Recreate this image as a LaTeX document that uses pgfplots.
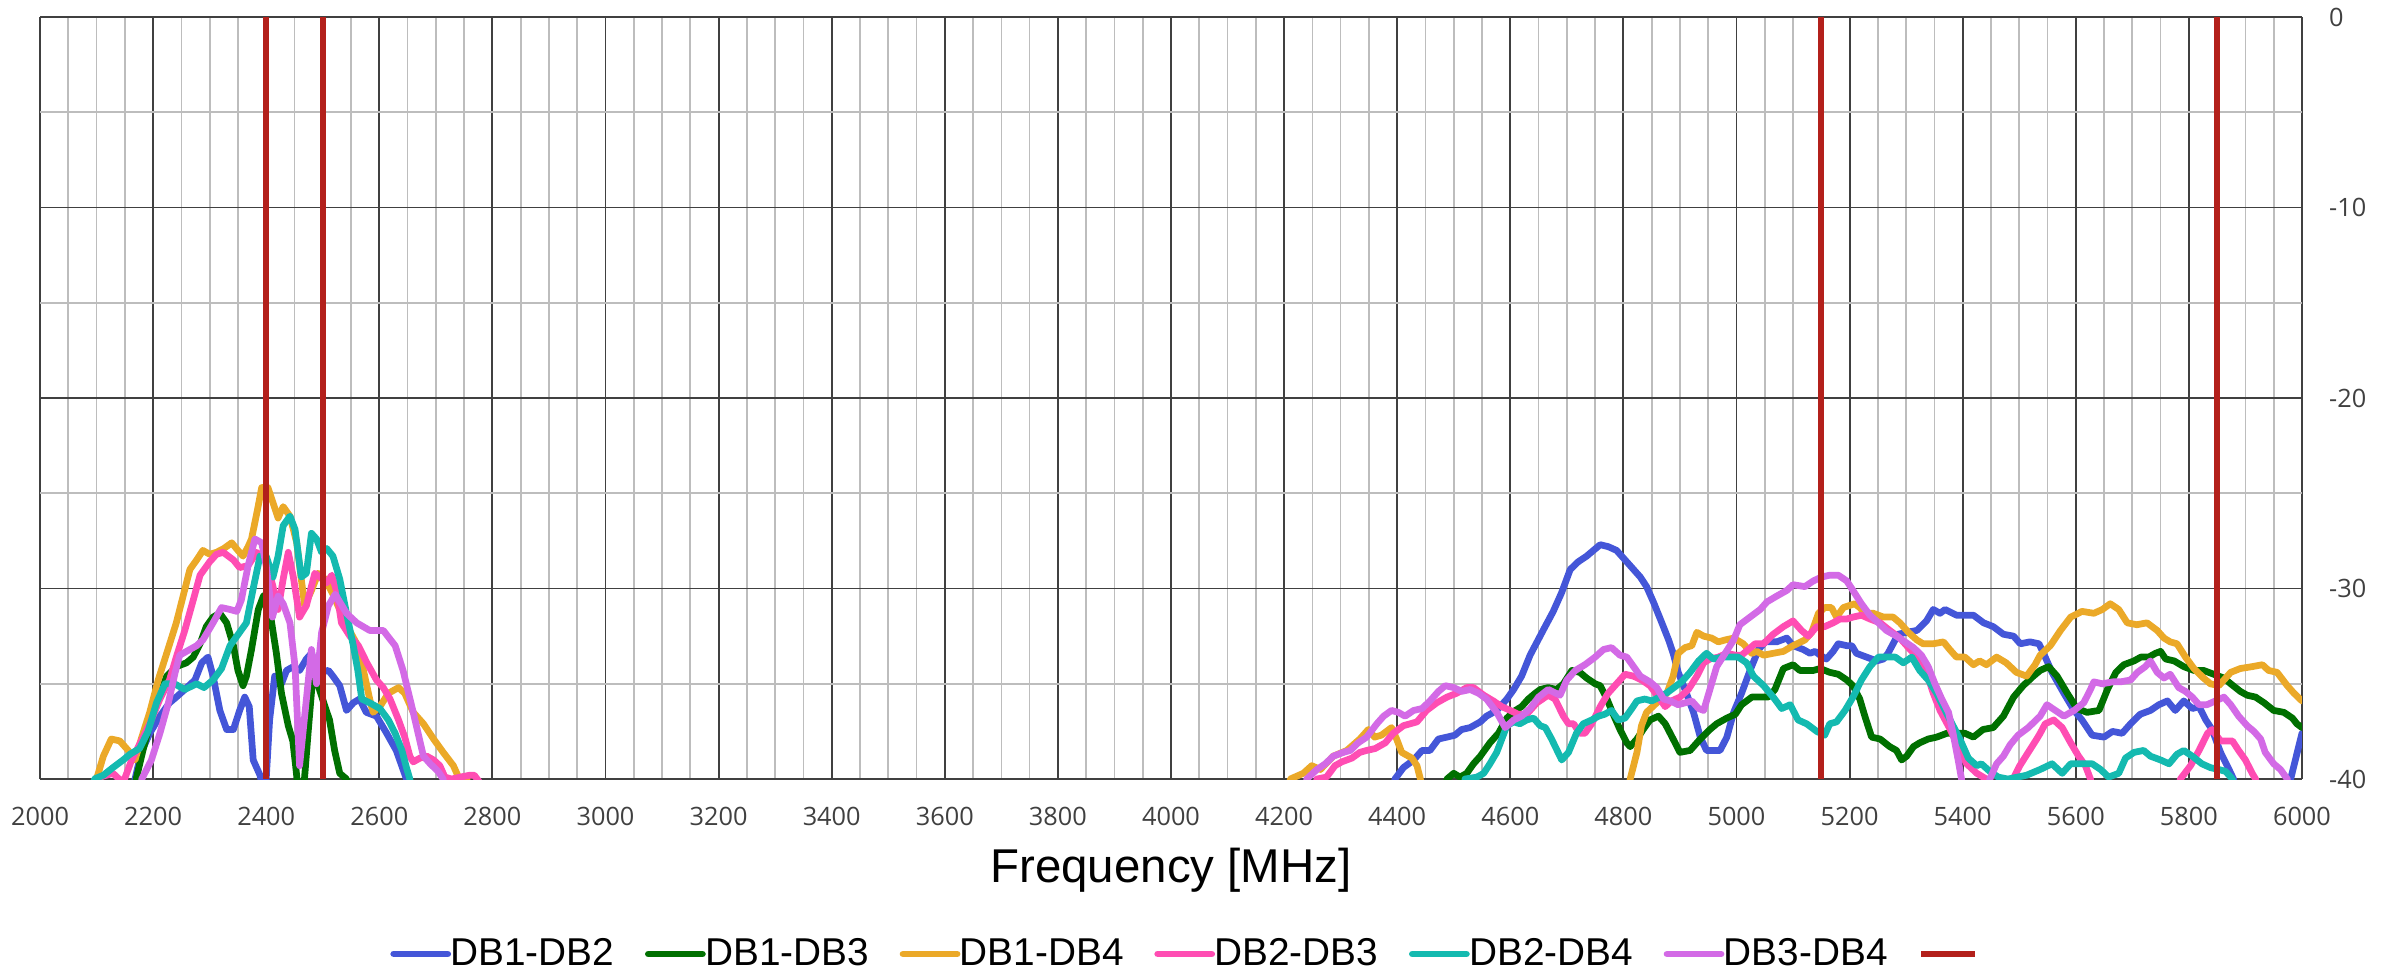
\documentclass[border=0pt]{standalone}
\usepackage{pgfplots}
\pgfplotsset{compat=1.18}
\usepackage{fontspec}
\setmainfont{Liberation Sans}
\newfontfamily\tickfont{Open Sans}

\definecolor{cAB}{HTML}{4456D8}
\definecolor{cAC}{HTML}{007000}
\definecolor{cAD}{HTML}{EBA928}
\definecolor{cBC}{HTML}{FF4DB3}
\definecolor{cBD}{HTML}{14BAB0}
\definecolor{cCD}{HTML}{D36AE6}
\definecolor{band}{HTML}{B3201B}
\definecolor{gridmajor}{HTML}{404040}
\definecolor{gridminor}{HTML}{BDBDBD}
\definecolor{ticktext}{HTML}{404040}

\tikzset{curve/.style={line width=3.2pt, line join=round, line cap=round}}

\begin{document}
\begin{tikzpicture}
\begin{axis}[
  at={(0.667cm,3.233cm)}, anchor=south west,
  width=37.70cm, height=12.70cm, scale only axis,
  xmin=2000, xmax=6000, ymin=-40, ymax=0,
  xtick={2000,2200,...,6000},
  xticklabels={2000,2200,2400,2600,2800,3000,3200,3400,3600,3800,4000,4200,4400,4600,4800,5000,5200,5400,5600,5800,6000},
  ytick={-40,-30,-20,-10,0},
  yticklabels={-40,-30,-20,-10,0},
  minor x tick num=3, minor y tick num=1,
  grid=both,
  major grid style={color=gridmajor, line width=0.9pt},
  minor grid style={color=gridminor, line width=0.8pt},
  axis line style={draw=none},
  tick style={draw=none},
  major tick length=0pt, minor tick length=0pt,
  yticklabel pos=right,
  tick label style={font=\tickfont\fontsize{12}{14}\selectfont, text=ticktext},
  yticklabel style={anchor=west, xshift=0.33cm},
  xticklabel style={anchor=base, yshift=-0.78cm},
  xlabel={Frequency [MHz]},
  xlabel style={font=\fontsize{22.5}{26}\selectfont, at={(axis description cs:0.5,0)}, anchor=base, yshift=-1.73cm},
  unbounded coords=jump,
  legend columns=7,
  legend style={at={(axis description cs:0.1547,-0.2296)}, anchor=west, draw=none, fill=none,
    inner sep=0pt, font=\fontsize{18.4}{21}\selectfont,
    /tikz/every odd column/.append style={column sep=-0.08cm},
    /tikz/every even column/.append style={column sep=0.44cm}},
  legend image code/.code={\draw[#1] (0cm,0cm) -- (0.9cm,0cm);},
]

% DB1-DB2
\addplot[cAB, curve] coordinates {
(2150,-46) (2168,-40) (2179,-38.6) (2194,-37.6) (2212,-36.7) (2229,-36.0) (2241,-35.7) (2256,-35.3)
(2274,-34.8) (2286,-33.9) (2297,-33.6) (2306,-34.6) (2318,-36.4) (2330,-37.4) (2342,-37.4) (2353,-36.4)
(2362,-35.7) (2370,-36.2) (2377,-39.0) (2389,-39.8) (2398,-41) (2406,-36.9) (2415,-34.6) (2427,-35.0)
(2436,-34.3) (2448,-34.1) (2459,-34.3) (2471,-33.7) (2480,-33.4) (2486,-33.9) (2495,-34.4) (2510,-34.3)
(2518,-34.6) (2530,-35.1) (2542,-36.4) (2554,-36.0) (2565,-35.8) (2577,-36.5) (2595,-36.7) (2613,-37.6)
(2630,-38.5) (2642,-39.5) (2648,-40) (2665,-46) (4380,-46) (4396,-40) (4411,-39.4) (4429,-39.0)
(4444,-38.5) (4458,-38.5) (4473,-37.9) (4488,-37.8) (4502,-37.7) (4514,-37.4) (4529,-37.3) (4547,-37.0)
(4558,-36.7) (4576,-36.4) (4594,-35.8) (4606,-35.3) (4620,-34.6) (4635,-33.5) (4658,-32.2) (4676,-31.2)
(4691,-30.2) (4706,-29.0) (4720,-28.6) (4735,-28.3) (4747,-28.0) (4759,-27.7) (4773,-27.8) (4788,-28.0)
(4803,-28.5) (4818,-29.0) (4830,-29.4) (4841,-29.9) (4853,-30.7) (4868,-31.8) (4880,-32.7) (4888,-33.4)
(4897,-34.4) (4909,-35.3) (4924,-36.5) (4936,-37.8) (4947,-38.5) (4971,-38.5) (4983,-37.8) (4995,-36.5)
(5009,-35.5) (5024,-34.3) (5039,-33.2) (5051,-32.8) (5071,-32.8) (5089,-32.6) (5100,-33.0) (5118,-33.2)
(5130,-33.4) (5139,-33.3) (5148,-33.5) (5159,-33.7) (5171,-33.3) (5180,-32.9) (5195,-33.0) (5204,-33.0)
(5212,-33.4) (5230,-33.6) (5248,-33.8) (5260,-33.7) (5268,-33.4) (5277,-32.9) (5286,-32.4) (5301,-32.3)
(5319,-32.2) (5336,-31.7) (5348,-31.1) (5360,-31.3) (5369,-31.1) (5389,-31.4) (5407,-31.4) (5419,-31.4)
(5437,-31.8) (5454,-32.0) (5472,-32.4) (5490,-32.5) (5502,-32.9) (5519,-32.8) (5535,-32.9) (5546,-33.6)
(5558,-34.4) (5579,-35.5) (5597,-36.4) (5611,-36.9) (5629,-37.7) (5650,-37.8) (5665,-37.5) (5682,-37.6)
(5697,-37.1) (5714,-36.6) (5732,-36.4) (5747,-36.1) (5762,-35.9) (5776,-36.4) (5791,-35.9) (5806,-36.3)
(5818,-36.2) (5830,-36.9) (5841,-37.4) (5856,-38.6) (5871,-39.5) (5879,-40) (5895,-46) (5965,-46)
(5980,-40) (6000,-37.6)
};
\addlegendentry{DB1-DB2}

% DB1-DB3
\addplot[cAC, curve] coordinates {
(2150,-46) (2170,-40) (2182,-38.5) (2195,-37.0) (2206,-36.1) (2224,-34.6) (2241,-34.1) (2259,-33.9)
(2271,-33.6) (2283,-32.9) (2294,-32.0) (2306,-31.5) (2318,-31.3) (2330,-31.8) (2342,-33.0) (2350,-34.3)
(2359,-35.1) (2365,-34.6) (2374,-33.2) (2386,-31.1) (2395,-30.4) (2400,-30.3) (2406,-31.1) (2418,-33.4)
(2427,-35.5) (2439,-37.2) (2447,-38.0) (2452,-39.3) (2458,-41) (2465,-41) (2474,-37.6) (2483,-34.4)
(2492,-35.1) (2504,-36.2) (2512,-36.9) (2521,-38.5) (2530,-39.7) (2542,-40) (2555,-46) (4470,-46)
(4488,-40) (4500,-39.7) (4511,-39.9) (4523,-39.7) (4535,-39.2) (4547,-38.8) (4564,-38.1) (4579,-37.6)
(4594,-36.8) (4609,-36.4) (4620,-36.2) (4632,-35.8) (4644,-35.5) (4653,-35.3) (4667,-35.2) (4682,-35.3)
(4694,-35.0) (4709,-34.3) (4723,-34.4) (4735,-34.7) (4750,-35.0) (4759,-35.1) (4771,-35.8) (4782,-36.6)
(4794,-37.4) (4806,-38.1) (4812,-38.3) (4824,-37.9) (4835,-37.4) (4847,-36.9) (4862,-36.7) (4874,-37.1)
(4888,-37.9) (4900,-38.6) (4918,-38.5) (4936,-37.9) (4953,-37.4) (4965,-37.1) (4983,-36.8) (4998,-36.6)
(5009,-36.1) (5027,-35.7) (5039,-35.7) (5056,-35.7) (5068,-35.3) (5083,-34.2) (5100,-34.0) (5112,-34.3)
(5124,-34.3) (5136,-34.3) (5148,-34.2) (5165,-34.4) (5180,-34.5) (5195,-34.8) (5206,-35.1) (5218,-35.8)
(5227,-36.7) (5239,-37.8) (5254,-37.9) (5271,-38.3) (5283,-38.5) (5292,-39.0) (5301,-38.8) (5313,-38.3)
(5324,-38.1) (5339,-37.9) (5354,-37.8) (5372,-37.6) (5389,-37.6) (5404,-37.6) (5419,-37.8) (5436,-37.4)
(5454,-37.3) (5472,-36.7) (5490,-35.7) (5507,-35.1) (5525,-34.6) (5537,-34.3) (5552,-34.1) (5567,-34.6)
(5585,-35.5) (5602,-36.3) (5620,-36.5) (5641,-36.4) (5656,-35.3) (5671,-34.4) (5685,-34.0) (5703,-33.8)
(5715,-33.6) (5729,-33.6) (5741,-33.4) (5750,-33.3) (5759,-33.7) (5774,-33.8) (5791,-34.1) (5809,-34.3)
(5826,-34.3) (5844,-34.5) (5862,-34.7) (5874,-35.0) (5891,-35.4) (5903,-35.6) (5918,-35.7) (5933,-36.0)
(5950,-36.4) (5968,-36.5) (5983,-36.8) (5991,-37.1) (6000,-37.3)
};
\addlegendentry{DB1-DB3}

% DB1-DB4
\addplot[cAD, curve] coordinates {
(2090,-46) (2100,-40) (2112,-38.8) (2126,-37.9) (2141,-38.0) (2156,-38.5) (2168,-39.0) (2180,-37.8)
(2194,-36.5) (2209,-34.8) (2224,-33.4) (2241,-31.8) (2253,-30.4) (2265,-29.0) (2277,-28.5) (2288,-28.0)
(2300,-28.2) (2312,-28.1) (2325,-27.9) (2339,-27.6) (2350,-28.0) (2359,-28.3) (2368,-27.8) (2374,-27.4)
(2385,-25.8) (2392,-24.7) (2403,-24.7) (2412,-25.5) (2421,-26.3) (2430,-25.7) (2442,-26.2) (2454,-27.6)
(2462,-29.5) (2468,-30.9) (2474,-30.5) (2480,-30.1) (2492,-29.2) (2504,-29.5) (2518,-30.3) (2540,-31.8)
(2560,-32.9) (2572,-34.3) (2583,-35.8) (2589,-36.5) (2601,-36.2) (2616,-35.5) (2634,-35.2) (2645,-35.5)
(2660,-36.5) (2678,-37.1) (2696,-37.9) (2713,-38.6) (2731,-39.3) (2740,-39.9) (2755,-40) (2770,-46)
(4195,-46) (4211,-40) (4234,-39.7) (4249,-39.3) (4264,-39.5) (4287,-38.8) (4311,-38.5) (4334,-37.9)
(4349,-37.4) (4360,-37.8) (4372,-37.7) (4390,-37.3) (4399,-37.9) (4408,-38.6) (4426,-38.9) (4435,-39.3)
(4441,-40) (4455,-46) (4800,-46) (4812,-40) (4824,-38.6) (4832,-37.2) (4841,-36.5) (4859,-36.0)
(4877,-35.5) (4888,-34.6) (4897,-33.4) (4909,-33.1) (4921,-33.0) (4930,-32.3) (4942,-32.5) (4956,-32.6)
(4968,-32.8) (4980,-32.7) (4995,-32.6) (5012,-32.9) (5027,-33.4) (5036,-33.3) (5048,-33.5) (5065,-33.4)
(5083,-33.3) (5100,-33.0) (5121,-32.7) (5133,-32.3) (5145,-31.3) (5156,-31.0) (5168,-31.0) (5177,-31.5)
(5189,-31.0) (5209,-30.8) (5218,-31.0) (5227,-31.3) (5242,-31.3) (5260,-31.5) (5277,-31.5) (5289,-31.8)
(5304,-32.3) (5319,-32.7) (5330,-32.9) (5348,-32.9) (5366,-32.8) (5377,-33.2) (5389,-33.6) (5404,-33.6)
(5419,-34.0) (5430,-33.8) (5442,-34.0) (5460,-33.6) (5477,-33.9) (5495,-34.4) (5513,-34.6) (5528,-34.0)
(5537,-33.5) (5555,-33.0) (5573,-32.2) (5591,-31.5) (5611,-31.2) (5632,-31.3) (5647,-31.1) (5661,-30.8)
(5676,-31.1) (5691,-31.8) (5708,-31.9) (5726,-31.8) (5744,-32.2) (5756,-32.6) (5767,-32.8) (5779,-32.9)
(5794,-33.6) (5809,-34.2) (5826,-34.7) (5838,-35.0) (5853,-35.1) (5862,-34.8) (5874,-34.4) (5891,-34.2)
(5912,-34.1) (5930,-34.0) (5941,-34.3) (5956,-34.4) (5974,-35.1) (5986,-35.5) (6000,-35.9)
};
\addlegendentry{DB1-DB4}

% DB2-DB3
\addplot[cBC, curve] coordinates {
(2095,-46) (2106,-39.9) (2129,-39.7) (2147,-40.2) (2162,-39.0) (2179,-38.0) (2194,-37.1) (2212,-35.8)
(2229,-34.8) (2241,-33.6) (2256,-32.2) (2271,-30.6) (2283,-29.3) (2300,-28.6) (2312,-28.2) (2324,-28.1)
(2342,-28.5) (2353,-28.9) (2368,-28.8) (2383,-28.1) (2400,-28.5) (2412,-29.9) (2421,-31.1) (2430,-29.5)
(2439,-28.1) (2448,-29.4) (2459,-31.5) (2471,-30.9) (2486,-29.2) (2495,-29.4) (2507,-29.7) (2516,-29.3)
(2525,-30.2) (2533,-31.8) (2548,-32.5) (2563,-33.0) (2578,-33.9) (2595,-34.8) (2607,-35.2) (2619,-35.8)
(2634,-36.9) (2645,-37.8) (2654,-38.8) (2660,-39.1) (2672,-38.9) (2684,-38.8) (2696,-39.0) (2707,-39.3)
(2716,-39.9) (2728,-40.0) (2743,-39.9) (2760,-39.8) (2768,-39.8) (2778,-40.2) (2790,-46)
(4245,-46) (4258,-40) (4275,-39.9) (4290,-39.3) (4302,-39.1) (4320,-38.9) (4334,-38.6) (4346,-38.5)
(4361,-38.4) (4379,-38.1) (4393,-37.6) (4411,-37.2) (4435,-37.0) (4452,-36.4) (4470,-36.0) (4488,-35.7)
(4505,-35.5) (4523,-35.2) (4535,-35.2) (4553,-35.6) (4570,-35.9) (4585,-36.2) (4600,-36.4) (4614,-36.6)
(4629,-36.6) (4647,-36.0) (4667,-35.6) (4679,-35.8) (4694,-36.7) (4703,-37.1) (4712,-37.1) (4723,-37.6)
(4732,-37.6) (4744,-37.1) (4759,-36.2) (4773,-35.5) (4788,-35.0) (4803,-34.5) (4818,-34.6) (4832,-34.8)
(4847,-35.1) (4862,-35.7) (4874,-36.2) (4885,-35.9) (4900,-35.7) (4915,-35.3) (4930,-34.6) (4942,-33.9)
(4953,-33.7) (4968,-33.6) (4983,-33.4) (4998,-33.5) (5009,-33.5) (5021,-33.2) (5033,-32.9) (5048,-32.9)
(5065,-32.4) (5083,-32.0) (5100,-31.7) (5115,-32.2) (5127,-32.5) (5142,-32.0) (5156,-32.0) (5171,-31.8)
(5183,-31.6) (5195,-31.6) (5206,-31.5) (5221,-31.4) (5236,-31.6) (5254,-31.8) (5271,-32.2) (5289,-32.6)
(5307,-33.2) (5324,-33.7) (5336,-34.4) (5348,-35.5) (5360,-36.4) (5378,-37.4) (5392,-38.3) (5407,-39.2)
(5425,-39.7) (5442,-40) (5455,-46) (5480,-46) (5489,-40) (5501,-39.3) (5516,-38.6) (5531,-37.9)
(5537,-37.6) (5546,-37.1) (5561,-36.9) (5576,-37.3) (5591,-38.1) (5605,-38.8) (5617,-39.3) (5626,-40)
(5640,-46) (5770,-46) (5785,-40) (5803,-39.3) (5818,-38.5) (5833,-37.6) (5841,-37.4) (5856,-38.0)
(5868,-38.0) (5877,-38.0) (5888,-38.5) (5900,-39.0) (5912,-39.7) (5918,-40) (5930,-46)
};
\addlegendentry{DB2-DB3}

% DB2-DB4
\addplot[cBD, curve] coordinates {
(2085,-46) (2096,-40) (2112,-39.8) (2129,-39.4) (2147,-39.0) (2159,-38.7) (2176,-38.4) (2191,-37.5)
(2206,-36.0) (2221,-35.0) (2238,-35.0) (2256,-35.3) (2277,-35.0) (2290,-35.2) (2306,-34.8) (2321,-34.2)
(2336,-33.0) (2353,-32.3) (2365,-31.8) (2377,-30.0) (2389,-28.3) (2400,-28.3) (2412,-29.4) (2421,-28.3)
(2430,-26.7) (2442,-26.2) (2451,-26.9) (2462,-29.4) (2471,-29.2) (2480,-27.1) (2489,-27.4) (2498,-28.1)
(2507,-27.9) (2518,-28.3) (2530,-29.5) (2542,-31.3) (2554,-33.0) (2562,-34.3) (2569,-35.8) (2583,-36.0)
(2601,-36.3) (2616,-36.9) (2628,-37.6) (2640,-38.5) (2648,-39.4) (2654,-40) (2668,-46)
(4505,-46) (4520,-40) (4541,-39.9) (4553,-39.7) (4564,-39.2) (4576,-38.6) (4585,-37.9) (4594,-37.2)
(4606,-37.0) (4617,-37.1) (4629,-36.9) (4641,-36.8) (4653,-37.2) (4662,-37.3) (4673,-37.9) (4691,-39.0)
(4703,-38.6) (4717,-37.6) (4729,-37.1) (4744,-36.9) (4756,-36.7) (4767,-36.6) (4779,-36.4) (4791,-36.9)
(4803,-36.8) (4815,-36.3) (4824,-35.9) (4838,-35.8) (4850,-35.9) (4871,-35.6) (4885,-35.3) (4903,-34.9)
(4918,-34.4) (4933,-33.8) (4947,-33.4) (4959,-33.7) (4974,-33.6) (4989,-33.6) (5003,-33.6) (5018,-33.9)
(5030,-34.6) (5048,-35.1) (5065,-35.7) (5080,-36.3) (5095,-36.1) (5109,-36.9) (5124,-37.1) (5142,-37.5)
(5156,-37.7) (5165,-37.1) (5177,-37.0) (5192,-36.4) (5206,-35.7) (5221,-34.8) (5236,-34.1) (5251,-33.6)
(5265,-33.6) (5281,-33.6) (5295,-33.9) (5310,-33.6) (5324,-34.3) (5339,-34.8) (5354,-35.5) (5369,-36.4)
(5383,-37.2) (5395,-37.9) (5410,-38.9) (5425,-39.3) (5433,-39.2) (5448,-39.6) (5463,-39.9) (5480,-40.0)
(5497,-39.9) (5513,-39.8) (5537,-39.5) (5558,-39.2) (5576,-39.7) (5591,-39.2) (5611,-39.2) (5629,-39.2)
(5644,-39.5) (5658,-39.9) (5676,-39.7) (5688,-38.9) (5703,-38.6) (5720,-38.5) (5732,-38.8) (5750,-39.0)
(5765,-39.2) (5779,-38.7) (5791,-38.5) (5806,-38.8) (5823,-39.2) (5838,-39.4) (5853,-39.5) (5865,-39.6)
(5877,-40) (5890,-46)
};
\addlegendentry{DB2-DB4}

% DB3-DB4
\addplot[cCD, curve] coordinates {
(2165,-46) (2180,-40) (2197,-39.0) (2212,-37.6) (2227,-36.0) (2239,-34.4) (2247,-33.5) (2265,-33.2)
(2277,-33.0) (2288,-32.7) (2306,-31.8) (2321,-31.0) (2336,-31.1) (2348,-31.2) (2356,-30.6) (2368,-28.8)
(2380,-27.4) (2392,-27.6) (2400,-28.8) (2411,-31.5) (2421,-30.4) (2430,-30.8) (2442,-31.8) (2451,-34.1)
(2459,-39.3) (2468,-36.7) (2480,-33.2) (2489,-35.0) (2498,-32.3) (2510,-30.9) (2522,-30.3) (2542,-31.3)
(2560,-31.8) (2583,-32.2) (2607,-32.2) (2628,-33.0) (2642,-34.3) (2660,-36.5) (2678,-38.8) (2690,-39.2)
(2704,-39.6) (2713,-40) (2725,-46)
(4225,-46) (4240,-40) (4258,-39.5) (4273,-39.2) (4287,-38.8) (4305,-38.6) (4317,-38.5) (4331,-38.1)
(4346,-37.8) (4364,-37.1) (4376,-36.7) (4390,-36.4) (4402,-36.5) (4414,-36.7) (4429,-36.4) (4444,-36.3)
(4458,-35.9) (4473,-35.4) (4485,-35.1) (4500,-35.2) (4514,-35.4) (4529,-35.3) (4544,-35.5) (4558,-35.8)
(4576,-36.5) (4591,-37.3) (4606,-36.9) (4620,-36.7) (4635,-36.3) (4650,-35.7) (4667,-35.3) (4688,-35.6)
(4700,-34.8) (4715,-34.3) (4732,-34.0) (4750,-33.6) (4765,-33.2) (4779,-33.1) (4794,-33.5) (4806,-33.6)
(4818,-34.1) (4830,-34.6) (4847,-34.9) (4859,-35.2) (4871,-35.8) (4883,-35.9) (4897,-36.1) (4909,-36.0)
(4921,-35.9) (4933,-36.3) (4942,-36.4) (4953,-35.3) (4965,-34.1) (4980,-33.4) (4995,-32.7) (5006,-31.9)
(5024,-31.5) (5042,-31.1) (5054,-30.7) (5071,-30.4) (5089,-30.1) (5100,-29.8) (5121,-29.9) (5136,-29.6)
(5150,-29.4) (5165,-29.3) (5180,-29.3) (5195,-29.6) (5206,-30.1) (5221,-30.8) (5236,-31.4) (5251,-31.8)
(5265,-32.2) (5283,-32.5) (5298,-32.8) (5313,-33.1) (5327,-33.5) (5339,-34.1) (5351,-35.0) (5363,-35.8)
(5375,-36.5) (5383,-37.6) (5392,-39.0) (5398,-40) (5408,-46) (5440,-46) (5448,-40) (5460,-39.2)
(5472,-38.8) (5484,-38.2) (5498,-37.7) (5516,-37.3) (5537,-36.7) (5549,-36.1) (5564,-36.4) (5579,-36.7)
(5597,-36.4) (5614,-36.0) (5626,-35.3) (5632,-34.9) (5647,-35.0) (5665,-34.9) (5679,-34.9) (5697,-34.8)
(5709,-34.4) (5723,-34.1) (5732,-33.8) (5744,-34.4) (5756,-34.7) (5767,-34.5) (5782,-35.2) (5794,-35.4)
(5806,-35.7) (5818,-36.1) (5832,-36.1) (5847,-35.9) (5862,-35.7) (5874,-36.1) (5888,-36.7) (5903,-37.2)
(5915,-37.5) (5927,-37.9) (5935,-38.6) (5950,-39.2) (5962,-39.5) (5974,-40) (5985,-46)
};
\addlegendentry{DB3-DB4}

% band edges
\addplot[band, line width=2.85pt, line cap=butt] coordinates {
(2400,-40) (2400,0) (2450,nan) (2500,-40) (2500,0) (3000,nan)
(5150,-40) (5150,0) (5500,nan) (5850,-40) (5850,0)
};
\addlegendentry{\mbox{}}
\end{axis}
\pgfresetboundingbox
\useasboundingbox (0,0) rectangle (40cm,16.217cm);
\end{tikzpicture}
\end{document}
